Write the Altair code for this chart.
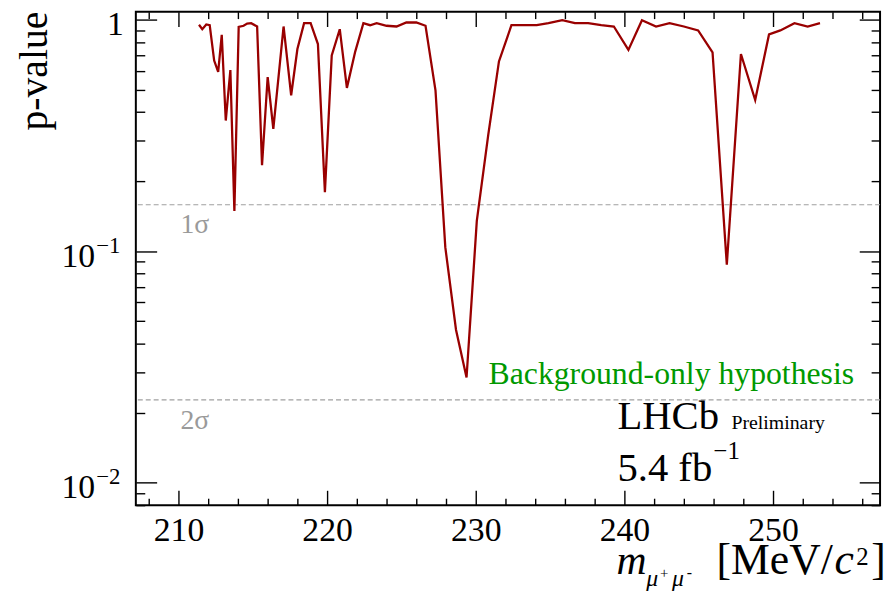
import altair as alt
import pandas as pd

# ---------------- data ----------------
mass = [211.38, 211.60, 211.87, 212.10, 212.40, 212.67, 212.91, 213.18, 213.49, 213.76,
        214.05, 214.38, 214.62, 214.89, 215.29, 215.62, 216.00, 216.38, 217.07, 217.58,
        218.00, 218.45, 218.89, 219.38, 219.85, 220.31, 220.85, 221.33, 221.89, 222.44,
        222.89, 223.33, 224.00, 224.67, 225.33, 226.00, 226.62, 227.29, 227.95, 228.67,
        229.38, 230.07, 230.84, 231.56, 232.40, 234.10, 234.89, 235.82, 236.67, 237.56,
        238.44, 239.29, 240.27, 241.18, 242.13, 243.04, 244.00, 244.96, 245.93, 246.89,
        247.84, 248.80, 249.73, 250.49, 251.44, 252.33, 253.16]
pvalue = [0.952, 0.911, 0.955, 0.948, 0.667, 0.595, 0.862, 0.367, 0.607, 0.149,
          0.933, 0.943, 0.964, 0.967, 0.936, 0.235, 0.566, 0.338, 0.936, 0.472,
          0.748, 0.967, 0.967, 0.786, 0.180, 0.701, 0.911, 0.508, 0.729, 0.967,
          0.948, 0.967, 0.943, 0.936, 0.974, 0.974, 0.943, 0.496, 0.104, 0.0457,
          0.0284, 0.135, 0.318, 0.661, 0.948, 0.948, 0.967, 0.996, 0.967, 0.967,
          0.948, 0.936, 0.741, 0.996, 0.936, 0.967, 0.936, 0.900, 0.724, 0.0874,
          0.712, 0.450, 0.865, 0.900, 0.967, 0.936, 0.967]

x_major = [210, 220, 230, 240, 250]
x_minor = [208, 212, 214, 216, 218, 222, 224, 226, 228, 232, 234, 236, 238,
           242, 244, 246, 248, 252, 254, 256]
y_major = [0.01, 0.1, 1]
y_minor = [0.008, 0.009, 0.02, 0.03, 0.04, 0.05, 0.06, 0.07, 0.08, 0.09,
           0.2, 0.3, 0.4, 0.5, 0.6, 0.7, 0.8, 0.9]

y_one_label = ["1"]
y_one_value = [1]
y_dec_values = [0.1, 0.01]
y_dec_base = ["10", "10"]
y_dec_exp = ["\u22121", "\u22122"]

sigma_p = [0.1587, 0.02275]
sigma_label = ["1\u03c3", "2\u03c3"]

txt_hypo = "Background-only hypothesis"
txt_lhcb = "LHCb"
txt_prelim = "Preliminary"
txt_lumi = "5.4 fb"
txt_lumi_exp = "\u22121"
txt_ytitle = "p-value"

W, H = 751, 498
XDOM = [207.13, 257.2]
YDOM = [0.00797, 1.085]
FONT = "Liberation Serif"

xs = alt.Scale(domain=XDOM, nice=False, zero=False)
ys = alt.Scale(type="log", domain=YDOM, nice=False)

df = pd.DataFrame({"m": mass, "p": pvalue})
base = alt.Chart(df)

line = base.mark_line(color="#990000", strokeWidth=2.3, clip=True).encode(
    x=alt.X("m:Q", scale=xs, axis=alt.Axis(
        orient="bottom", values=x_major, ticks=False, tickSize=0, domain=False, grid=False,
        labelFont=FONT, labelFontSize=34, labelColor="black", labelPadding=36,
        labelBaseline="alphabetic", labelFlush=False, labelOverlap=False, format="d", title=None)),
    y=alt.Y("p:Q", scale=ys, axis=None),
)


def tick_layer(xorient, yorient, xvals, yvals, xsize, ysize):
    return base.mark_point(opacity=0).encode(
        x=alt.X("m:Q", scale=xs, axis=alt.Axis(
            orient=xorient, offset=-H, values=xvals, tickSize=xsize, labels=False,
            domain=False, grid=False, title=None, tickColor="black", tickWidth=1.4)),
        y=alt.Y("p:Q", scale=ys, axis=alt.Axis(
            orient=yorient, offset=-W, values=yvals, tickSize=ysize, labels=False,
            domain=False, grid=False, title=None, tickColor="black", tickWidth=1.4)),
    )


ticks = [
    tick_layer("top", "right", x_major, y_major, 15, 21),     # bottom / left frame
    tick_layer("top", "right", x_minor, y_minor, 7, 9),
    tick_layer("bottom", "left", x_major, y_major, 15, 21),   # top / right frame
    tick_layer("bottom", "left", x_minor, y_minor, 7, 9),
]

sig_df = pd.DataFrame({"p": sigma_p, "t": sigma_label})
rules = alt.Chart(sig_df).mark_rule(color="#a0a0a0", strokeWidth=1.2, strokeDash=[5, 3]).encode(
    y=alt.Y("p:Q", scale=ys, axis=None))
sig_text = alt.Chart(sig_df).mark_text(
    x=45, dy=29, align="left", baseline="alphabetic", font=FONT, fontSize=28, color="#9a9a9a"
).encode(y=alt.Y("p:Q", scale=ys, axis=None), text="t:N")

one_lab = alt.Chart(pd.DataFrame({"p": y_one_value, "t": y_one_label})).mark_text(
    x=-12, dy=15, align="right", baseline="alphabetic", font=FONT, fontSize=34, color="black"
).encode(y=alt.Y("p:Q", scale=ys, axis=None), text="t:N")
dec_df = pd.DataFrame({"p": y_dec_values, "b": y_dec_base, "e": y_dec_exp})
dec_lab = alt.Chart(dec_df).mark_text(
    x=-41, dy=16, align="right", baseline="alphabetic", font=FONT, fontSize=34, color="black"
).encode(y=alt.Y("p:Q", scale=ys, axis=None), text="b:N")
dec_exp = alt.Chart(dec_df).mark_text(
    x=-40, dy=2, align="left", baseline="alphabetic", font=FONT, fontSize=23, color="black"
).encode(y=alt.Y("p:Q", scale=ys, axis=None), text="e:N")


def label(txt, x, y, size, color="black", style="normal", align="left", angle=0):
    kw = dict(x=x, y=y, fontSize=size, font=FONT, align=align, baseline="alphabetic",
              color=color, fontStyle=style)
    if angle:
        kw["angle"] = angle
    return alt.Chart(pd.DataFrame({"t": [txt]})).mark_text(**kw).encode(text="t:N")


# positions below are relative to the plot area's top-left corner
annotations = [
    label(txt_hypo, 356, 376, 32, color="#009900"),
    label(txt_lhcb, 486, 421, 41),
    label(txt_prelim, 601, 421, 20),
    label(txt_lumi, 486, 474, 41),
    label(txt_lumi_exp, 583, 451, 25),
    label(txt_ytitle, -90, 0, 40, align="right", angle=270),
    # x-axis title  m_{mu+ mu-} [MeV/c^2]
    label("m", 485, 567, 42, style="italic"),
    label("\u03bc", 515, 580, 24, style="italic"),
    label("+", 529, 571, 15),
    label("\u03bc", 541, 580, 24, style="italic"),
    label("-", 556, 571, 16),
    label("[MeV/", 586, 567, 44),
    label("c", 705, 567, 44, style="italic"),
    label("2", 727, 558, 25),
    label("]", 742, 567, 44),
]

chart = alt.layer(
    rules, line, *ticks, sig_text, one_lab, dec_lab, dec_exp, *annotations
).resolve_axis(x="independent", y="independent").properties(
    width=W, height=H,
    autosize=alt.AutoSizeParams(type="none"),
    padding={"left": 129, "top": 1, "right": 6, "bottom": 92},
    background="white",
).configure_view(stroke="black", strokeWidth=2)

chart.save("out.html", embed_options={"renderer": "svg", "actions": False})
